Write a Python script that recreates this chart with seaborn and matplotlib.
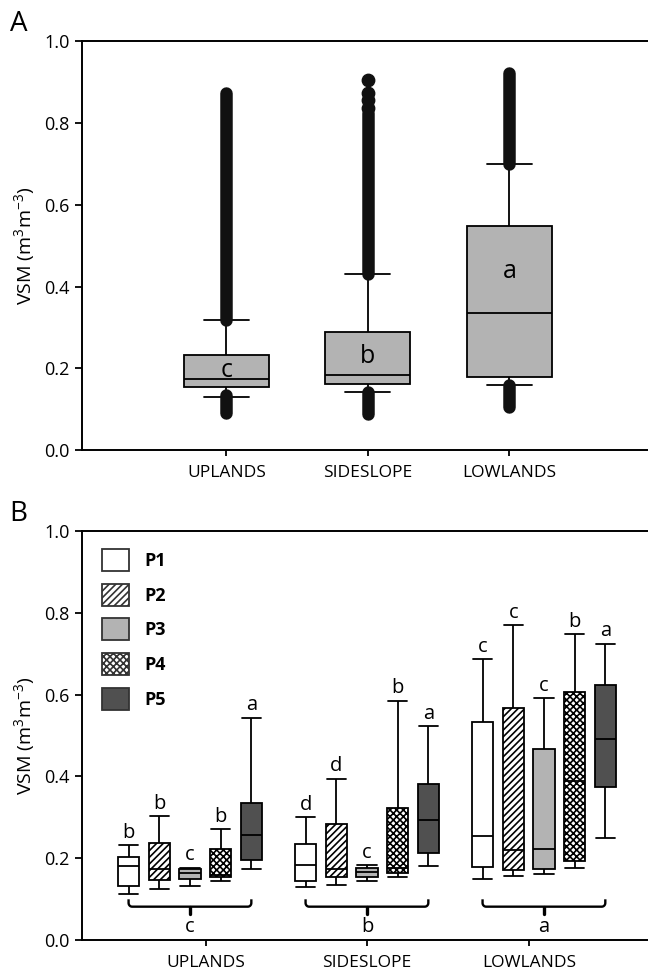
import numpy as np
import pandas as pd
import matplotlib
matplotlib.use("Agg")
import matplotlib.pyplot as plt
import matplotlib.patches as mpatches
from matplotlib.ticker import FormatStrFormatter
import seaborn as sns

sns.set_style("ticks", {"text.color": "black", "axes.labelcolor": "black",
                        "xtick.color": "black", "ytick.color": "black"})
plt.rcParams['font.family'] = ['Open Sans', 'DejaVu Sans']
plt.rcParams['mathtext.fontset'] = 'custom'
plt.rcParams['mathtext.rm'] = 'Open Sans'
plt.rcParams['hatch.linewidth'] = 1.2

sites = ["UPLANDS", "SIDESLOPE", "LOWLANDS"]
periods = ["P1", "P2", "P3", "P4", "P5"]

# ---- panel A: whisker low, q1, median, q3, whisker high
a_low = [0.130, 0.142, 0.159]
a_q1 = [0.153, 0.162, 0.178]
a_med = [0.175, 0.183, 0.335]
a_q3 = [0.232, 0.289, 0.549]
a_high = [0.318, 0.431, 0.700]
# extent of the (very dense) outlier columns
a_out_hi_max = [0.873, 0.825, 0.922]
a_out_lo_min = [0.090, 0.088, 0.106]
a_out_lo_max = [0.135, 0.142, 0.160]
a_single_site = "SIDESLOPE"
a_single_out = [0.906, 0.873, 0.857, 0.838]
a_letters = ["c", "b", "a"]
a_letter_y = [0.195, 0.230, 0.436]

# ---- panel B: [site][period]
b_low = [[0.112, 0.125, 0.132, 0.145, 0.174],
         [0.129, 0.134, 0.144, 0.153, 0.181],
         [0.150, 0.157, 0.161, 0.175, 0.249]]
b_q1 = [[0.133, 0.147, 0.148, 0.153, 0.196],
        [0.144, 0.155, 0.155, 0.163, 0.213],
        [0.178, 0.171, 0.174, 0.193, 0.374]]
b_med = [[0.181, 0.173, 0.163, 0.159, 0.257],
         [0.183, 0.174, 0.166, 0.175, 0.293],
         [0.254, 0.220, 0.222, 0.389, 0.491]]
b_q3 = [[0.204, 0.236, 0.173, 0.222, 0.334],
        [0.234, 0.284, 0.175, 0.322, 0.381],
        [0.534, 0.568, 0.466, 0.607, 0.623]]
b_high = [[0.232, 0.303, 0.177, 0.271, 0.543],
          [0.300, 0.394, 0.183, 0.585, 0.523],
          [0.686, 0.770, 0.591, 0.747, 0.724]]
b_letters = [["b", "b", "c", "b", "a"],
             ["d", "d", "c", "b", "a"],
             ["c", "c", "c", "b", "a"]]
b_site_letters = ["c", "b", "a"]
b_tick_pos = [0.09, 1.0, 1.915]

period_colors = ["#ffffff", "#ffffff", "#b3b3b3", "#ffffff", "#505050"]
period_hatch = ["", "/////", "", "xxxxx", ""]

rows = []
for i, s in enumerate(sites):
    for v in (a_low[i], a_q1[i], a_med[i], a_q3[i], a_high[i]):
        rows.append((s, v))
df_a = pd.DataFrame(rows, columns=["site", "vsm"])

rows = []
for i, s in enumerate(sites):
    for j, p in enumerate(periods):
        for v in (b_low[i][j], b_q1[i][j], b_med[i][j], b_q3[i][j], b_high[i][j]):
            rows.append((s, p, v))
df_b = pd.DataFrame(rows, columns=["site", "period", "vsm"])

fig = plt.figure(figsize=(6.48, 9.71), dpi=100)
ax_a = fig.add_axes([82 / 648, 521 / 971, 566 / 648, 408.5 / 971])
ax_b = fig.add_axes([82 / 648, 31 / 971, 566 / 648, 409 / 971])

ylab = "VSM (m$^{\\mathrm{3}}$m$^{\\mathrm{-3}}$)"

# ---------------- panel A
sns.boxplot(data=df_a, x="site", y="vsm", order=sites, color="#b3b3b3",
            width=0.6, whis=(0, 100), linecolor="black", linewidth=1.3,
            capwidths=0.32, saturation=1, ax=ax_a)
for i in range(len(sites)):
    ax_a.vlines(i, a_high[i], a_out_hi_max[i], color="#111111", linewidth=9,
                capstyle="round", zorder=3)
    ax_a.vlines(i, a_out_lo_min[i], a_out_lo_max[i], color="#111111", linewidth=9,
                capstyle="round", zorder=3)
    ax_a.text(i, a_letter_y[i], a_letters[i], ha="center", va="center", fontsize=18)
si = sites.index(a_single_site)
ax_a.scatter([si] * len(a_single_out), a_single_out, s=80, color="#111111", zorder=3)
ax_a.set_xlim(-1.02, 2.98)

# ---------------- panel B
b_width = 0.867
step = b_width / len(periods)
sns.boxplot(data=df_b, x="site", y="vsm", hue="period", order=sites,
            hue_order=periods, palette=period_colors, width=b_width, gap=0.3,
            whis=(0, 100), linecolor="black", linewidth=1.3, capwidths=0.11,
            saturation=1, legend=False, ax=ax_b)
for p in ax_b.patches:
    cx = p.get_path().vertices[:, 0].mean()
    j = int(round((cx - round(cx)) / step)) + 2
    if 0 <= j < len(periods):
        p.set_hatch(period_hatch[j])

brace_y, brace_top, brace_tip = 0.0815, 0.0995, 0.064
for i in range(len(sites)):
    for j in range(len(periods)):
        x = i + (j - 2) * step
        ax_b.text(x, b_high[i][j] + 0.006, b_letters[i][j], ha="center", va="bottom",
                  fontsize=14.5)
    x0, x1 = i - 2 * step, i + 2 * step
    rx, ry = 0.02, 0.009
    t = np.linspace(0, np.pi / 2, 8)
    left = np.column_stack([x0 + rx * (1 - np.cos(t)), brace_y + ry * (1 - np.sin(t))])
    right = np.column_stack([x1 - rx * (1 - np.sin(t)), brace_y + ry * (1 - np.cos(t))])
    pts = np.vstack([[x0, brace_top], left, right, [x1, brace_top]])
    ax_b.plot(pts[:, 0], pts[:, 1], color="black", linewidth=1.7, solid_capstyle="butt")
    ax_b.plot([i, i], [brace_y, brace_tip], color="black", linewidth=2.4)
    ax_b.text(i, 0.033, b_site_letters[i], ha="center", va="center", fontsize=14.5)

ax_b.set_xlim(-0.61, 2.588)
ax_b.set_xticks(b_tick_pos)

handles = [mpatches.Patch(facecolor=period_colors[j], edgecolor="#333333",
                          hatch=period_hatch[j], linewidth=1.3) for j in range(len(periods))]
leg = ax_b.legend(handles, periods, loc="upper left", bbox_to_anchor=(0.035, 0.956),
                  frameon=False, handlelength=1.5, handleheight=1.5,
                  labelspacing=0.7, handletextpad=0.85, borderpad=0, borderaxespad=0,
                  prop={"size": 13, "weight": "bold"})

for ax in (ax_a, ax_b):
    ax.set_ylim(0, 1.0)
    ax.set_yticks(np.arange(0, 1.01, 0.2))
    ax.yaxis.set_major_formatter(FormatStrFormatter("%.1f"))
    ax.set_xticklabels(sites)
    ax.set_xlabel("")
    ax.set_ylabel(ylab, fontsize=14, labelpad=4)
    ax.spines["right"].set_visible(False)
    for s in ("left", "top", "bottom"):
        ax.spines[s].set_linewidth(1.4)
        ax.spines[s].set_color("black")
    ax.tick_params(axis="y", direction="out", length=5, width=1.3, labelsize=13, pad=4)
    ax.tick_params(axis="x", direction="out", length=4, width=1.3, labelsize=12.5, pad=7)

fig.text(10 / 648, 1 - 24 / 971, "A", fontsize=20, ha="left", va="center")
fig.text(9 / 648, 1 - 514 / 971, "B", fontsize=20, ha="left", va="center")

fig.savefig("out.png", dpi=100)
